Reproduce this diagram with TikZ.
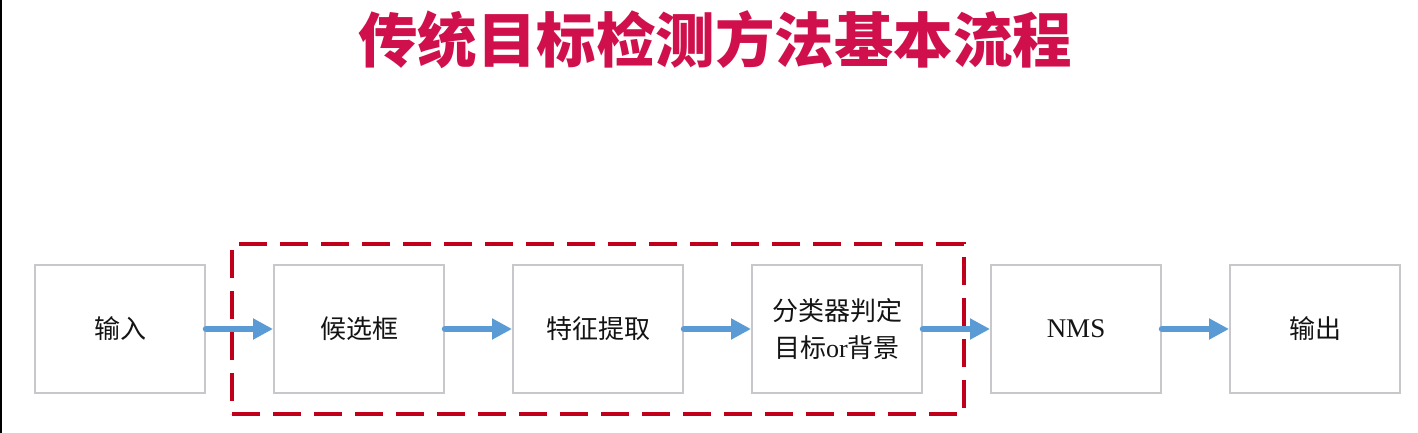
\documentclass[tikz,border=0pt]{standalone}
\usepackage{fontspec}
\setmainfont{Liberation Serif}
\newfontfamily\cjk{Noto Sans CJK SC}
\usetikzlibrary{arrows.meta, positioning, fit}
\definecolor{titlered}{RGB}{208,16,76}
\definecolor{flowblue}{RGB}{91,155,213}
\definecolor{dashred}{RGB}{192,0,26}
\definecolor{boxgray}{RGB}{200,200,204}

\begin{document}
\begin{tikzpicture}[
  x=1pt, y=1pt,
  node distance=67pt,
  stage/.style={rectangle, draw=boxgray, line width=2pt, fill=white, minimum width=170pt, minimum height=128pt, align=center, text=black!92, font=\fontsize{26}{37}\selectfont\cjk},
  groupbox/.style={rectangle, draw=dashred, line width=3.5pt, dash pattern=on 28pt off 13pt, inner xsep=41pt, inner ysep=20pt},
  flow/.style={-{Triangle[length=20pt, width=20pt]}, line width=6.5pt, line cap=round, draw=flowblue},
  heading/.style={text=titlered, font=\fontsize{59.5}{62}\selectfont\cjk\bfseries}
]
\useasboundingbox (0,0) rectangle (1418,433);
\draw[line width=2pt] (1,0) -- (1,433);
\node[heading] (title) at (715,393) {传统目标检测方法基本流程};
\node[stage] (input) at (120,104) {输入};
\node[stage, right=of input] (cand) {候选框};
\node[stage, right=of cand] (feat) {特征提取};
\node[stage, right=of feat] (cls) {分类器判定\\目标{\rmfamily or}背景};
\node[stage, right=of cls] (nms) {\rmfamily\fontsize{27}{37}\selectfont NMS};
\node[stage, right=of nms] (output) {输出};
\node[groupbox, fit=(cand)(cls)] (group) {};
\draw[flow] (input.east) -- (cand.west);
\draw[flow] (cand.east) -- (feat.west);
\draw[flow] (feat.east) -- (cls.west);
\draw[flow] (cls.east) -- (nms.west);
\draw[flow] (nms.east) -- (output.west);
\end{tikzpicture}
\end{document}
